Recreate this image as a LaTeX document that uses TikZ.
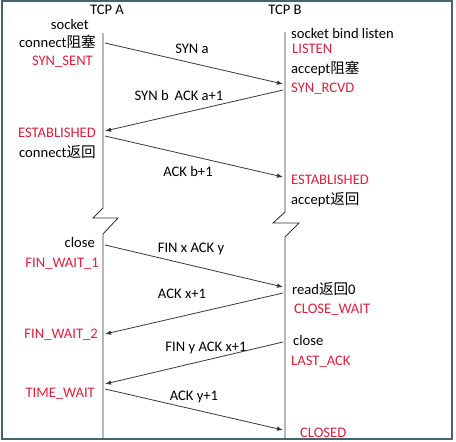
\documentclass[tikz,border=0pt]{standalone}
\usepackage{fontspec}
\setmainfont{Carlito}
\newfontfamily\cjk{Noto Sans CJK SC}
\usetikzlibrary{arrows.meta}
\definecolor{stred}{RGB}{228,30,60}
\definecolor{ln}{RGB}{55,55,55}
\definecolor{frm}{RGB}{70,100,110}
\begin{document}
\begin{tikzpicture}[x=1pt,y=-1pt,
  txt/.style={font=\fontsize{14.6}{16}\selectfont, inner sep=0pt, text height=9.5pt, text depth=2.5pt},
  st/.style={txt, text=stred},
  msg/.style={draw=ln, line width=0.8pt, -{Latex[length=6pt,width=4.5pt]}},
  life/.style={draw=ln, line width=0.9pt}]
\useasboundingbox (0,0) rectangle (456,442);
\draw[frm, line width=1.2pt] (2,1) rectangle (452,439);

% lifelines
\draw[life] (103,33) -- (103,208) -- (93,218) -- (118,218) -- (103,234) -- (103,439);
\draw[life] (285,32) -- (285,212) -- (273,223) -- (299,223) -- (285,237) -- (285,439);

% headers
\node[txt] (ha) at (107,11) {TCP A};
\node[txt] (hb) at (285,11) {TCP B};

% left texts
\node[txt, anchor=east] (sockA) at (89,26) {socket};
\node[txt, anchor=east] (connA) at (96,44) {connect{\cjk 阻塞}};
\node[st, anchor=east] (synsent) at (93,62) {SYN\_SENT};
\node[st, anchor=east] (estA) at (96,134) {ESTABLISHED};
\node[txt, anchor=east] (connR) at (96,154) {connect{\cjk 返回}};
\node[txt, anchor=east] (closeA) at (95,244) {close};
\node[st, anchor=east] (fw1) at (99,264) {FIN\_WAIT\_1};
\node[st, anchor=east] (fw2) at (98,335) {FIN\_WAIT\_2};
\node[st, anchor=east] (tw) at (95,394) {TIME\_WAIT};

% right texts
\node[txt, anchor=west] (sockB) at (291,35) {socket bind listen};
\node[st, anchor=west] (listen) at (292,50) {LISTEN};
\node[txt, anchor=west] (accB) at (291,70) {accept{\cjk 阻塞}};
\node[st, anchor=west] (synrcvd) at (291,89) {SYN\_RCVD};
\node[st, anchor=west] (estB) at (291,181) {ESTABLISHED};
\node[txt, anchor=west] (accR) at (291,201) {accept{\cjk 返回}};
\node[txt, anchor=west] (readB) at (292,291) {read{\cjk 返回}0};
\node[st, anchor=west] (cw) at (294,310) {CLOSE\_WAIT};
\node[txt, anchor=west] (closeB) at (293,342) {close};
\node[st, anchor=west] (la) at (291,362) {LAST\_ACK};
\node[st, anchor=west] (closed) at (300,434) {CLOSED};

% message end points
\coordinate (m1s) at (105,43);  \coordinate (m1e) at (283,84);
\coordinate (m2s) at (283,90);  \coordinate (m2e) at (105,131);
\coordinate (m3s) at (105,136); \coordinate (m3e) at (283,177);
\coordinate (m4s) at (105,245); \coordinate (m4e) at (283,287);
\coordinate (m5s) at (283,293); \coordinate (m5e) at (105,334);
\coordinate (m6s) at (283,342); \coordinate (m6e) at (105,384);
\coordinate (m7s) at (105,389); \coordinate (m7e) at (283,430);

\draw[msg] (m1s) -- (m1e);
\draw[msg] (m2s) -- (m2e);
\draw[msg] (m3s) -- (m3e);
\draw[msg] (m4s) -- (m4e);
\draw[msg] (m5s) -- (m5e);
\draw[msg] (m6s) -- (m6e);
\draw[msg] (m7s) -- (m7e);

% message labels
\node[txt] (l1) at (192,50) {SYN a};
\node[txt] (l2) at (179,97) {SYN b\hspace{6pt}ACK a+1};
\node[txt] (l3) at (188,173) {ACK b+1};
\node[txt] (l4) at (191,249) {FIN x ACK y};
\node[txt] (l5) at (182,295) {ACK x+1};
\node[txt] (l6) at (206,348) {FIN y ACK x+1};
\node[txt] (l7) at (194,397) {ACK y+1};
\end{tikzpicture}
\end{document}
